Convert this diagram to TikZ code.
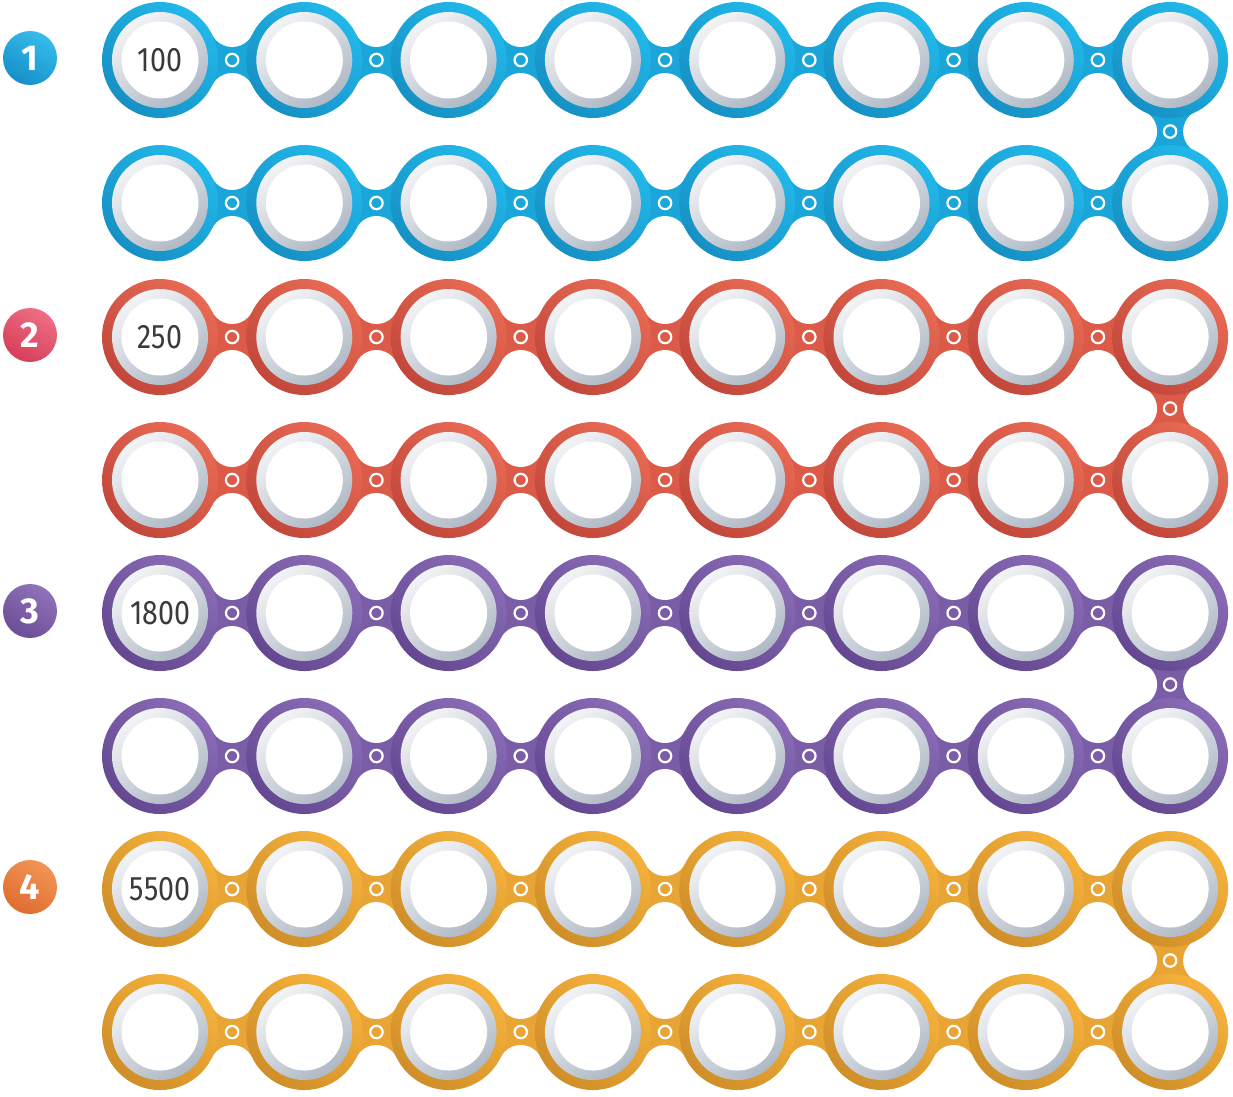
\documentclass[tikz,border=0pt]{standalone}
\usepackage{fontspec}
\setmainfont{Fira Sans}
\newfontfamily\numfont[FakeStretch=0.84]{Fira Sans}
\usetikzlibrary{calc}

\definecolor{blueM}{HTML}{1BA6DA}
\definecolor{blueL}{HTML}{22B8EA}
\definecolor{blueD}{HTML}{1690C4}
\definecolor{redM}{HTML}{DB5A48}
\definecolor{redL}{HTML}{E86A54}
\definecolor{redD}{HTML}{C2473A}
\definecolor{purpleM}{HTML}{7A5DA6}
\definecolor{purpleL}{HTML}{8A6CB6}
\definecolor{purpleD}{HTML}{634790}
\definecolor{goldM}{HTML}{E8A536}
\definecolor{goldL}{HTML}{F5B23C}
\definecolor{goldD}{HTML}{CF8E28}
\definecolor{badgeblueL}{HTML}{36BCEB}
\definecolor{badgeblueD}{HTML}{1590C8}
\definecolor{badgeredL}{HTML}{EE6E84}
\definecolor{badgeredD}{HTML}{D63E59}
\definecolor{badgepurpleL}{HTML}{9072B8}
\definecolor{badgepurpleD}{HTML}{6C4E98}
\definecolor{badgegoldL}{HTML}{F29456}
\definecolor{badgegoldD}{HTML}{E06C30}
\definecolor{greyL}{HTML}{F3F4F6}
\definecolor{greyD}{HTML}{AEB8C4}
\definecolor{numtext}{HTML}{3A3A3A}

\tikzset{
  pics/neck/.style={code={
    \fill[#1] (-20.1,-25.5) rectangle (20.1,25.5);
    \fill[white] (0,35.3) circle [radius=22.3] (0,-35.3) circle [radius=22.3];
    \draw[white,line width=2.2pt] (0,0) circle [radius=6.2];
  }},
  badge/.style={circle,minimum size=54pt,inner sep=0pt,text=white,
    font=\fontsize{36}{36}\selectfont\bfseries},
  value/.style={text=numtext,font=\numfont\fontsize{34}{34}\selectfont}
}

\begin{document}
\begin{tikzpicture}[x=1pt,y=-1pt]
  \useasboundingbox (0,0) rectangle (1233,1096);
  \foreach \g/\ya/\yb/\col/\lab in {1/60/203/blue/100, 2/337/480/red/250,
      3/613/756/purple/1800, 4/889/1032/gold/5500}{
    % centres of the two rows
    \foreach \k in {1,...,8}{
      \coordinate (t\g-\k) at ({160+144.3*(\k-1)},\ya);
      \coordinate (b\g-\k) at ({160+144.3*(\k-1)},\yb);
    }
    % necks between neighbours
    \foreach \k in {1,...,7}{
      \pgfmathtruncatemacro\n{\k+1}
      \pic at ($(t\g-\k)!0.5!(t\g-\n)$) {neck=\col M};
      \pic at ($(b\g-\k)!0.5!(b\g-\n)$) {neck=\col M};
    }
    \pic[rotate=90] at ($(t\g-8)!0.5!(b\g-8)$) {neck=\col M};
    % rings
    \foreach \k in {1,...,8}{
      \foreach \r in {t,b}{
        \shade[top color=\col L,bottom color=\col D,shading angle=-40]
          (\r\g-\k) circle [radius=58];
        \shade[top color=greyL,bottom color=greyD,shading angle=35]
          (\r\g-\k) circle [radius=48];
        \fill[white] (\r\g-\k) circle [radius=38.5];
      }
    }
    \node[value] (v\g) at (t\g-1) {\lab};
    \node[badge,top color=badge\col L,bottom color=badge\col D,shading angle=-30]
      (n\g) at (30,\ya-2) {\g};
  }
\end{tikzpicture}
\end{document}
